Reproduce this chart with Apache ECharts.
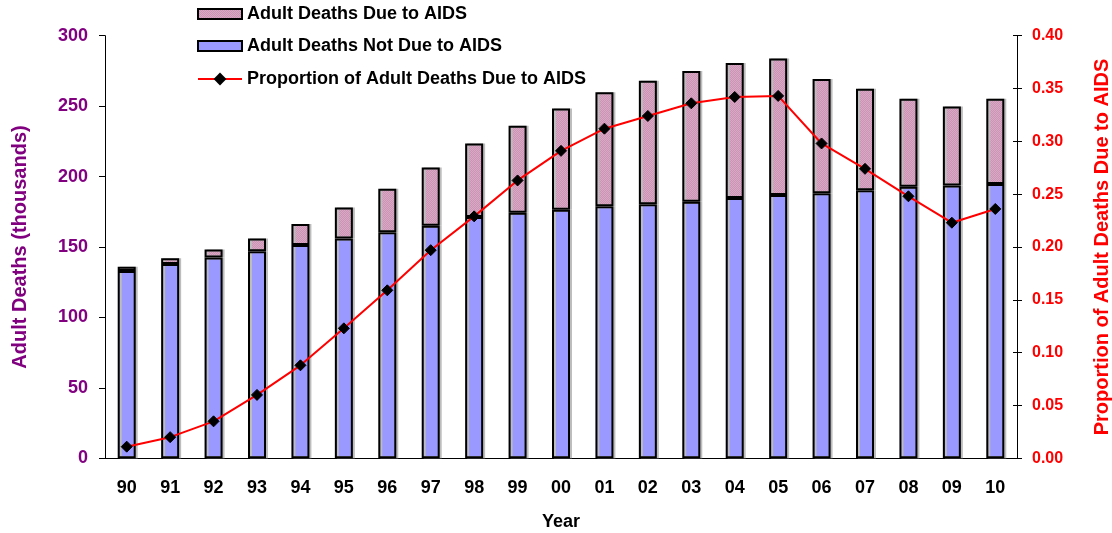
<!DOCTYPE html>
<html>
<head>
<meta charset="utf-8">
<script src="https://cdn.jsdelivr.net/npm/echarts@6/dist/echarts.min.js"></script>
<style>
html,body{margin:0;padding:0;background:#fff;}
#chart{width:1112px;height:533px;}
</style>
</head>
<body>
<div id="chart"></div>
<script>
var years = ['90','91','92','93','94','95','96','97','98','99','00','01','02','03','04','05','06','07','08','09','10'];
var notAids = [133, 138, 142.6, 147, 151.5, 156, 160.5, 165, 171.3, 174.3, 176.5, 179, 180.3, 182.1, 184.7, 186.9, 188.1, 190.2, 192.8, 193.7, 194.7];
var aids = [3, 4, 5.7, 9, 14.8, 22, 30.8, 41.5, 52.2, 61.7, 71.8, 80.8, 87.7, 92.8, 95.9, 97, 81.1, 72.1, 62.4, 56.1, 60.5];
var proportion = [0.011, 0.020, 0.035, 0.060, 0.088, 0.123, 0.159, 0.197, 0.229, 0.263, 0.291, 0.312, 0.324, 0.336, 0.342, 0.343, 0.298, 0.274, 0.248, 0.223, 0.236];

var FONT = '"Liberation Sans", Arial, sans-serif';

// dotted pink texture
var pc = document.createElement('canvas');
pc.width = 2; pc.height = 2;
var g = pc.getContext('2d');
g.fillStyle = '#cc94b4'; g.fillRect(0,0,2,2);
g.fillStyle = '#d9a8c5'; g.fillRect(0,0,1,1); g.fillRect(1,1,1,1);
var pinkPattern = {image: pc, repeat: 'repeat'};

var chart = echarts.init(document.getElementById('chart'), null, {renderer: 'canvas'});
var legendText = {color: '#000', fontWeight: 'bold', fontSize: 18, fontFamily: FONT, lineHeight: 20};
function mkLegend(name, top, icon, h) {
  var l = {data: [name], left: 197, top: top, padding: 0, itemWidth: 44, itemHeight: h || 10,
           textStyle: legendText, selectedMode: false};
  if (icon) l.icon = icon;
  return l;
}
chart.setOption({
  animation: false,
  backgroundColor: '#fff',
  grid: {left: 105, right: 95, top: 35.7, bottom: 74.7, containLabel: false, outerBoundsMode: 'none'},
  legend: [
    mkLegend('Adult Deaths Due to AIDS', 4, 'rect'),
    mkLegend('Adult Deaths Not Due to AIDS', 36, 'rect'),
    mkLegend('Proportion of Adult Deaths Due to AIDS', 69, null, 16)
  ],
  xAxis: {
    type: 'category', data: years, boundaryGap: true,
    name: 'Year', nameLocation: 'middle', nameGap: 55,
    nameTextStyle: {color: '#000', fontWeight: 'bold', fontSize: 18, fontFamily: FONT},
    axisLine: {lineStyle: {color: '#000', width: 1}},
    axisTick: {length: 5, lineStyle: {color: '#000'}},
    axisLabel: {color: '#000', fontWeight: 'bold', fontSize: 18, fontFamily: FONT, margin: 21}
  },
  yAxis: [{
    type: 'value', min: 0, max: 300, interval: 50,
    name: 'Adult Deaths (thousands)', nameLocation: 'middle', nameGap: 75, nameRotate: 90,
    nameTextStyle: {color: '#800080', fontWeight: 'bold', fontSize: 20, fontFamily: FONT},
    axisLine: {show: true, lineStyle: {color: '#000', width: 1}},
    axisTick: {show: true, length: 6, lineStyle: {color: '#000'}},
    splitLine: {show: false},
    axisLabel: {color: '#800080', fontWeight: 'bold', fontSize: 18, fontFamily: FONT, margin: 17}
  }, {
    type: 'value', min: 0, max: 0.4, interval: 0.05, position: 'right',
    name: 'Proportion of Adult Deaths Due to AIDS', nameLocation: 'middle', nameGap: 75, nameRotate: 90,
    nameTextStyle: {color: '#ff0000', fontWeight: 'bold', fontSize: 20, fontFamily: FONT},
    axisLine: {show: true, lineStyle: {color: '#000', width: 1}},
    axisTick: {show: true, length: 5, lineStyle: {color: '#000'}},
    splitLine: {show: false},
    axisLabel: {color: '#ff0000', fontWeight: 'bold', fontSize: 16, fontFamily: FONT, margin: 15,
                formatter: function(v){ return v.toFixed(2); }}
  }, {
    type: 'value', min: 0, max: 0.4, interval: 0.05, position: 'right', offset: 0,
    axisLine: {show: false},
    axisTick: {show: true, inside: true, length: 4, lineStyle: {color: '#000'}},
    axisLabel: {show: false},
    splitLine: {show: false}
  }],
  series: [{
    name: 'Adult Deaths Not Due to AIDS', type: 'bar', stack: 'deaths', data: notAids,
    barWidth: 18, yAxisIndex: 0,
    itemStyle: {color: '#9999ff', borderColor: '#000', borderWidth: 2,
                shadowColor: '#bdbdbd', shadowOffsetX: 2, shadowOffsetY: 0, shadowBlur: 0}
  }, {
    name: 'Adult Deaths Due to AIDS', type: 'bar', stack: 'deaths', data: aids,
    barWidth: 18, yAxisIndex: 0,
    itemStyle: {color: pinkPattern, borderColor: '#000', borderWidth: 2,
                shadowColor: '#bdbdbd', shadowOffsetX: 2, shadowOffsetY: 0, shadowBlur: 0}
  }, {
    name: 'Proportion of Adult Deaths Due to AIDS', type: 'line', yAxisIndex: 1, data: proportion,
    symbol: 'diamond', symbolSize: 11, showAllSymbol: true,
    lineStyle: {color: '#ff0000', width: 2},
    itemStyle: {color: '#000', borderColor: '#000'},
    z: 5
  }]
});
</script>
</body>
</html>
